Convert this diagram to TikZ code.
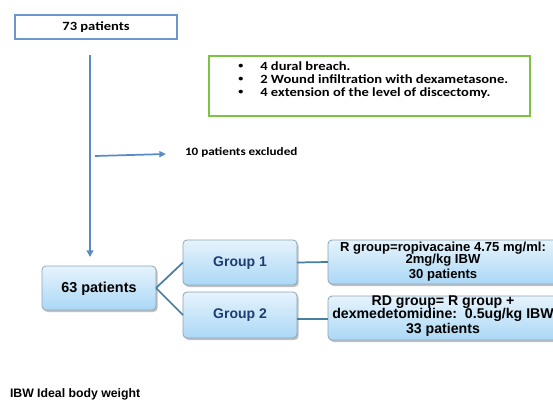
\documentclass[tikz,border=0pt]{standalone}
\usepackage{fontspec}
\setmainfont{Liberation Sans}
\newfontfamily\calfont[FakeStretch=1.16]{Carlito}
\usetikzlibrary{arrows.meta,shadows}
\definecolor{linkblue}{HTML}{5A8AC6}
\definecolor{treeline}{HTML}{4A7EA0}
\definecolor{grptext}{HTML}{1F3B73}
\definecolor{gtop}{HTML}{E6F3FC}
\definecolor{gbot}{HTML}{ABD8F6}
\definecolor{gborder}{HTML}{8CA4B8}
\definecolor{listgreen}{HTML}{7DC242}
\definecolor{topborder}{HTML}{6C97CE}
\newcommand\smallbul{\makebox[17.5pt][l]{\hspace*{1pt}\raisebox{1.6pt}{\fontsize{6.5}{6.5}\selectfont\textbullet}}}
\begin{document}
\begin{tikzpicture}[x=0.75pt,y=-0.75pt,
  every node/.style={inner sep=0pt,outer sep=0pt},
  gradbox/.style={draw=gborder,line width=0.6pt,rounded corners=3pt,
    top color=gtop,bottom color=gbot,
    drop shadow={shadow xshift=1.2pt,shadow yshift=-1.5pt,opacity=0.35,fill=black!70}},
  calib/.style={font=\calfont\bfseries\fontsize{9.4}{9.75}\selectfont},
  arialb/.style={font=\bfseries\fontsize{#1}{#1}\selectfont},
  tree/.style={draw=treeline,line width=1.3pt},
  flow/.style={draw=linkblue,line width=1.3pt}
]
\useasboundingbox (0,0) rectangle (553,400);

% top box
\node[draw=topborder,line width=1.5pt,fill=white,minimum width=121.5pt,minimum height=18pt,
  drop shadow={shadow xshift=1pt,shadow yshift=-1pt,opacity=0.3,fill=black!60}] (top) at (96,27) {};
\node[calib] (toptext) at (96,27.5) {73 patients};

% exclusion list
\node[draw=listgreen,line width=1.5pt,fill=white,minimum width=240.75pt,minimum height=45pt] (green) at (369.5,85.5) {};
\node[calib,anchor=west,align=left] (list) at (237,80.5)
  {\smallbul 4 dural breach.\\
   \smallbul 2 Wound infiltration with dexametasone.\\
   \smallbul 4 extension of the level of discectomy.};

% flow arrows
\coordinate (vtop) at (90,55);
\coordinate (vend) at (90,257);
\coordinate (hstart) at (95,156);
\coordinate (hend) at (166,154);
\draw[flow,-{Triangle[length=5pt,width=5pt]}] (vtop) -- (vend);
\draw[flow,-{Triangle[length=5pt,width=4.5pt]}] (hstart) -- (hend);
\node[calib,font=\calfont\bfseries\fontsize{8.5}{9}\selectfont,anchor=west] (excl) at (185,152.5) {10 patients excluded};

% tree
\node[gradbox,minimum width=85.5pt,minimum height=33pt] (n63) at (99,288) {};
\node[arialb=10.8] (n63t) at (99,288.5) {63 patients};
\node[gradbox,minimum width=85.5pt,minimum height=33.75pt] (g1) at (240,262.5) {};
\node[arialb=10.5,text=grptext] (g1t) at (240,263) {Group 1};
\node[gradbox,minimum width=85.5pt,minimum height=34.5pt] (g2) at (240,315) {};
\node[arialb=10.5,text=grptext] (g2t) at (240,315) {Group 2};

\node[gradbox,minimum width=180pt,minimum height=33pt] (r) at (448,262) {};
\node[arialb=9.8,align=center] (rt1) at (443,254) {R group=ropivacaine 4.75 mg/ml:\\[-0.3pt]2mg/kg IBW};
\node[arialb=9.8] (rt2) at (443,275.5) {30 patients};

\node[gradbox,minimum width=180pt,minimum height=33pt] (rd) at (448,318) {};
\node[arialb=10.6,align=center] (rdt1) at (443,308.5) {RD group= R group +\\[-1pt]dexmedetomidine:\ \ 0.5ug/kg IBW};
\node[arialb=10.6] (rdt2) at (443,329.5) {33 patients};

\draw[tree] (n63.east) -- (g1.west);
\draw[tree] (n63.east) -- (g2.west);
\draw[tree] (g1.east) -- (r.west);
\draw[tree] (g2.east |- 0,319) -- (rd.west |- 0,319);

% footnote
\node[arialb=9.2,anchor=west] (foot) at (10,394.5) {IBW Ideal body weight};
\end{tikzpicture}
\end{document}
